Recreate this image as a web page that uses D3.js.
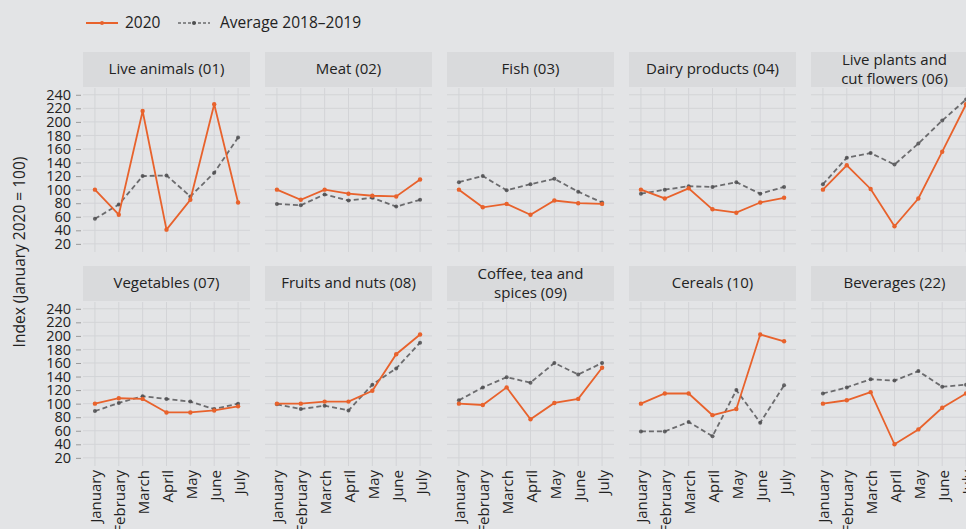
<!DOCTYPE html>
<html><head><meta charset="utf-8">
<script src="https://cdn.jsdelivr.net/npm/d3@7"></script>
<style>
html,body{margin:0;padding:0;background:#e3e4e6;overflow:hidden;}
svg{display:block;font-family:"Open Sans","Noto Sans",sans-serif;}
</style></head><body>
<svg id="chart" width="966" height="529"></svg>
<script>
const months = ["January","February","March","April","May","June","July"];
const categories = [
  ["Live animals (01)"], ["Meat (02)"], ["Fish (03)"], ["Dairy products (04)"], ["Live plants and","cut flowers (06)"],
  ["Vegetables (07)"], ["Fruits and nuts (08)"], ["Coffee, tea and","spices (09)"], ["Cereals (10)"], ["Beverages (22)"]
];
const yTicks = [20,40,60,80,100,120,140,160,180,200,220,240];
const values2020 = [
  [100, 63, 216, 41, 85, 226, 81],
  [100, 85, 100, 94, 91, 90, 115],
  [100, 74, 79, 63, 84, 80, 79],
  [100, 87, 102, 71, 66, 81, 88],
  [100, 136, 101, 46, 87, 156, 226],
  [100, 108, 107, 87, 87, 90, 96],
  [100, 100, 103, 103, 119, 173, 202],
  [100, 98, 124, 77, 101, 107, 153],
  [100, 115, 115, 83, 92, 202, 192],
  [100, 105, 117, 40, 62, 94, 115]
];
const valuesAvg = [
  [57, 78, 120, 121, 90, 125, 177],
  [79, 77, 93, 84, 88, 75, 85],
  [111, 120, 99, 108, 116, 97, 81],
  [94, 100, 105, 104, 111, 94, 104],
  [108, 147, 154, 137, 168, 202, 233],
  [89, 101, 111, 107, 103, 92, 100],
  [99, 92, 97, 90, 128, 152, 190],
  [105, 124, 139, 131, 160, 143, 160],
  [59, 59, 73, 52, 120, 72, 127],
  [115, 124, 136, 134, 148, 125, 128]
];
const seriesNames = ["2020","Average 2018\u20132019"];

const ORANGE = "#e8622c", GREY = "#4d4e50";
const svg = d3.select("#chart");
const panelW = 167, gapX = 15, left0 = 83;
const rows = [{stripTop:52, plotTop:88, plotBot:252}, {stripTop:266, plotTop:302, plotBot:466}];
const stripH = 35;

// legend
const lg = svg.append("g");
lg.append("line").attr("x1",86).attr("x2",118).attr("y1",23).attr("y2",23).attr("stroke",ORANGE).attr("stroke-width",2);
lg.append("circle").attr("cx",102).attr("cy",23).attr("r",2).attr("fill",ORANGE);
lg.append("text").attr("x",125).attr("y",28).text(seriesNames[0]).attr("font-size",15.5).attr("fill","#222");
lg.append("line").attr("x1",178).attr("x2",210).attr("y1",23).attr("y2",23).attr("stroke",GREY).attr("stroke-width",1.6).attr("stroke-dasharray","3,2").attr("opacity",0.8);
lg.append("circle").attr("cx",194).attr("cy",23).attr("r",2).attr("fill",GREY);
lg.append("text").attr("x",220).attr("y",28).text(seriesNames[1]).attr("font-size",15.5).attr("fill","#222");

// y axis title
svg.append("text").attr("transform","translate(25,252) rotate(-90)").attr("text-anchor","middle")
  .attr("font-size",15.5).attr("fill","#222").text("Index (January 2020 = 100)");

categories.forEach((title, i) => {
  const r = Math.floor(i/5), c = i%5;
  const R = rows[r];
  const x0 = left0 + c*(panelW+gapX);
  const x = d3.scalePoint().domain(months).range([x0, x0+panelW]).padding(0.5);
  const y = d3.scaleLinear().domain([8,250]).range([R.plotBot, R.plotTop]);
  const g = svg.append("g");
  // strip
  g.append("rect").attr("x",x0).attr("y",R.stripTop).attr("width",panelW).attr("height",stripH).attr("fill","#d9dadc");
  const t = g.append("text").attr("text-anchor","middle").attr("font-size",15).attr("fill","#222");
  if (title.length === 1) {
    t.append("tspan").attr("x",x0+panelW/2).attr("y",R.stripTop+22).text(title[0]);
  } else {
    t.append("tspan").attr("x",x0+panelW/2).attr("y",R.stripTop+13).text(title[0]);
    t.append("tspan").attr("x",x0+panelW/2).attr("y",R.stripTop+32).text(title[1]);
  }
  // grid
  g.append("g").selectAll("line").data(yTicks).join("line")
    .attr("x1",x0).attr("x2",x0+panelW).attr("y1",d=>y(d)).attr("y2",d=>y(d))
    .attr("stroke","#d3d4d7").attr("stroke-width",1);
  g.append("g").selectAll("line").data(months).join("line")
    .attr("x1",d=>x(d)).attr("x2",d=>x(d)).attr("y1",R.plotTop).attr("y2",R.plotBot)
    .attr("stroke","#d3d4d7").attr("stroke-width",1);
  // y axis on first column
  if (c === 0) {
    const ax = g.append("g").attr("transform",`translate(${x0-2},0)`)
      .call(d3.axisLeft(y).tickValues(yTicks).tickSize(5).tickPadding(5));
    ax.select(".domain").remove();
    ax.selectAll(".tick line").attr("stroke","#999");
    ax.selectAll(".tick text").attr("font-size",14.5).attr("fill","#222").attr("font-family","\"Open Sans\",sans-serif");
  }
  // x axis on bottom row
  if (r === 1) {
    const ax = g.append("g").attr("transform",`translate(0,${R.plotBot})`)
      .call(d3.axisBottom(x).tickSize(0).tickPadding(0));
    ax.select(".domain").remove();
    ax.selectAll(".tick text").attr("font-size",15).attr("fill","#222").attr("font-family","\"Open Sans\",sans-serif")
      .attr("text-anchor","end").attr("transform","translate(6,4) rotate(-90)").attr("dy","0").attr("y",0).attr("x",0);
  }
  const line = d3.line().x((d,k)=>x(months[k])).y(d=>y(d));
  // avg
  g.append("path").datum(valuesAvg[i]).attr("d",line).attr("fill","none")
    .attr("stroke",GREY).attr("stroke-width",1.8).attr("stroke-dasharray","5,3").attr("opacity",0.8);
  g.append("g").selectAll("circle").data(valuesAvg[i]).join("circle")
    .attr("cx",(d,k)=>x(months[k])).attr("cy",d=>y(d)).attr("r",2).attr("fill",GREY).attr("opacity",0.85);
  // 2020
  g.append("path").datum(values2020[i]).attr("d",line).attr("fill","none")
    .attr("stroke",ORANGE).attr("stroke-width",1.8);
  g.append("g").selectAll("circle").data(values2020[i]).join("circle")
    .attr("cx",(d,k)=>x(months[k])).attr("cy",d=>y(d)).attr("r",2.2).attr("fill",ORANGE);
});
</script>
</body></html>
